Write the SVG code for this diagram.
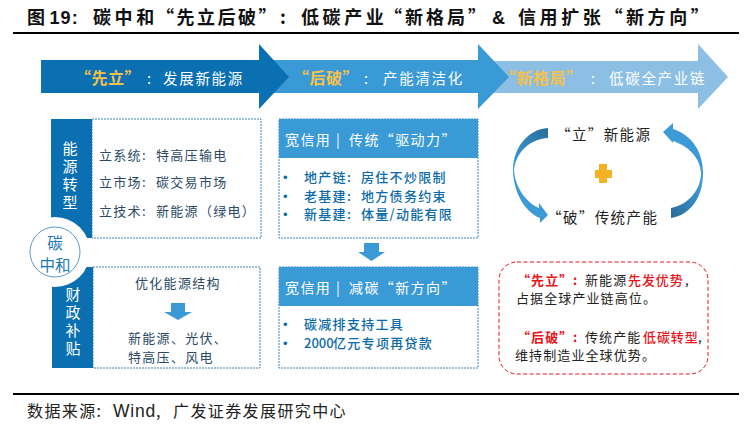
<svg xmlns="http://www.w3.org/2000/svg" width="752" height="424" viewBox="0 0 752 424">
<defs>
<linearGradient id="rL" gradientUnits="userSpaceOnUse" x1="548" y1="130" x2="515" y2="165"><stop offset="0" stop-color="#2a6d9c"/><stop offset="1" stop-color="#3c9bd6"/></linearGradient>
<linearGradient id="rR" gradientUnits="userSpaceOnUse" x1="671" y1="215" x2="702" y2="185"><stop offset="0" stop-color="#2a6d9c"/><stop offset="1" stop-color="#3c9bd6"/></linearGradient>
</defs>
<style>
text{font-family:"Noto Sans CJK SC","Noto Sans",sans-serif}
.title{font-size:18px;font-weight:700;fill:#111;letter-spacing:3.6px}
.titleL{font-family:"Liberation Sans",sans-serif;font-size:18px;font-weight:700;fill:#111;letter-spacing:1px}
.rule{stroke:#000;stroke-width:2;fill:none}
.ban{font-size:14.5px;fill:#fff;letter-spacing:1.7px}
.gold{fill:#f2c14e;font-weight:700;font-size:16px;letter-spacing:.5px}
.dash{fill:#fff;stroke:#3f86b8;stroke-width:1;stroke-dasharray:2 1}
.dk{fill:#0a70b2}
.md{fill:#3a9ad6}
.side{font-size:15px;fill:#fff;writing-mode:vertical-rl;letter-spacing:3px}
.body{font-size:13px;fill:#2c4a66;letter-spacing:1.3px}
.blue{font-size:13px;fill:#0b6aa8;letter-spacing:1.3px;font-weight:500}
.hdr{font-size:14px;fill:#fff;letter-spacing:1.4px}
.blk{font-size:14.5px;fill:#222;letter-spacing:1.4px}
.red{font-size:13px;fill:#222;letter-spacing:1.1px}
.r{fill:#e8141c;font-weight:500;letter-spacing:.9px}
.rb{fill:#e8141c;font-weight:700}
.foot{font-size:16px;fill:#222;letter-spacing:1.4px}
.bul{font-family:"Liberation Sans",sans-serif;font-size:13px;fill:#0b6aa8}
</style>
<rect width="752" height="424" fill="#fff"/>
<g id="title">
<text class="title" x="27" y="24">图<tspan class="titleL" dx="1">19:</tspan><tspan x="93">碳中和</tspan><tspan x="156" letter-spacing="2.5">“先立后破”</tspan><tspan x="280">:</tspan><tspan x="301">低碳产业</tspan><tspan x="384" letter-spacing="3">“新格局”</tspan><tspan x="492" font-family="Liberation Sans">&amp;</tspan><tspan x="518">信用扩张“新方向”</tspan></text>
<path class="rule" d="M13,33H739"/>
</g>
<g id="banner-3">
<path fill="#8dbfe4" d="M470,61H698V44L728,77L698,109V93H470Z"/>
<text class="ban" x="500" y="84"><tspan class="gold">“新格局”</tspan><tspan x="591">:</tspan><tspan x="609">低碳全产业链</tspan></text>
</g>
<g id="banner-2">
<path fill="#3a9ad6" d="M250,60H478V44L509,77L478,109V93H250Z"/>
<text class="ban" x="293" y="84"><tspan class="gold">“后破”</tspan><tspan x="364">:</tspan><tspan x="383">产能清洁化</tspan></text>
</g>
<g id="banner-1">
<path fill="#0a70b2" d="M41,60H259V44L289,77L259,109V93H41Z"/>
<text class="ban" x="75" y="84"><tspan class="gold">“先立”</tspan><tspan x="147">:</tspan><tspan x="163">发展新能源</tspan></text>
</g>
<g id="energy-box">
<rect class="dash" x="92" y="119" width="169" height="119"/>
<rect class="dk" x="51" y="119" width="41" height="119"/>
<text class="side" x="70" y="141">能源转型</text>
<text class="body" x="99" y="160">立系统:<tspan x="156">特高压输电</tspan></text>
<text class="body" x="99" y="187">立市场:<tspan x="156">碳交易市场</tspan></text>
<text class="body" x="99" y="216">立技术:<tspan x="156">新能源&#xFF08;绿电&#xFF09;</tspan></text>
</g>
<g id="fiscal-box">
<rect class="dash" x="93" y="267" width="167" height="101"/>
<rect class="dk" x="52" y="267" width="41" height="101"/>
<text class="side" x="73" y="287">财政补贴</text>
<text class="body" x="135" y="288">优化能源结构</text>
<path class="md" d="M171,303H185V312H192L178,320L164,312H171Z"/>
<text class="body" x="128" y="343">新能源、光伏、</text>
<text class="body" x="128" y="362">特高压、风电</text>
</g>
<g id="carbon-neutral">
<circle cx="55" cy="252" r="35" fill="#fff"/>
<circle cx="55" cy="252" r="25" fill="#fff" stroke="#5b9bc8" stroke-width="1"/>
<text font-size="15.5" fill="#1c78b8" text-anchor="middle"><tspan x="55" y="249">碳</tspan><tspan x="55" y="271">中和</tspan></text>
</g>
<g id="credit-old">
<rect class="dash" x="279" y="119" width="199" height="119"/>
<rect class="md" x="279" y="119" width="199" height="39"/>
<text class="hdr" x="285" y="145">宽信用<tspan x="336">|</tspan><tspan x="349">传统“驱动力”</tspan></text>
<text class="bul" x="283" y="182">•</text><text class="bul" x="283" y="201">•</text><text class="bul" x="283" y="219">•</text>
<text class="blue" x="304" y="182">地产链:<tspan x="361">房住不炒限制</tspan></text>
<text class="blue" x="304" y="201">老基建:<tspan x="361">地方债务约束</tspan></text>
<text class="blue" x="304" y="219">新基建:<tspan x="361">体量/动能有限</tspan></text>
</g>
<g id="credit-new">
<rect class="dash" x="279" y="267" width="199" height="101"/>
<rect class="md" x="279" y="267" width="199" height="39"/>
<text class="hdr" x="285" y="293">宽信用<tspan x="336">|</tspan><tspan x="349">减碳“新方向”</tspan></text>
<text class="bul" x="283" y="329">•</text><text class="bul" x="283" y="348">•</text>
<text class="blue" x="304" y="329">碳减排支持工具</text>
<text class="blue" x="304" y="348"><tspan letter-spacing="0">2000</tspan><tspan x="333">亿元专项再贷款</tspan></text>
</g>
<g id="connectors">
<path class="md" d="M364,243H379V252H385L371.500,261L358,252H364Z"/>
<path fill="url(#rL)" d="M548,128C528,129 513,148 513,170C513,190 524,212 540,218L540,223L548,215L539,203L539,208C527,203 515,188 514,170C516,152 530,139 548,138Z"/>
<path fill="url(#rR)" d="M671,208C688,205 701,190 701,173C700,157 688,146 673,141L673,143L663,132L673,123L673,129C692,135 703,152 703,173C703,198 690,215 671,218Z"/>
</g>
<g id="cycle-labels">
<text class="blk" x="556" y="140">“立”新能源</text>
<text class="blk" x="547" y="223" letter-spacing="1.5">“破”传统产能</text>
<path fill="#f5b324" d="M599,164H607V170H612V178H607V183H599V178H595V170H599Z"/>
</g>
<g id="note">
<rect x="499" y="262" width="209" height="112" rx="18" fill="#fff" stroke="#e8141c" stroke-width="1" stroke-dasharray="4 2.500"/>
<text class="red" x="517" y="285"><tspan class="rb">“先立”</tspan><tspan class="rb" x="573">:</tspan><tspan x="585">新能源</tspan><tspan class="r" x="628">先发优势</tspan><tspan x="685">,</tspan></text>
<text class="red" x="516" y="303">占据全球产业链高位。</text>
<text class="red" x="517" y="342"><tspan class="rb">“后破”</tspan><tspan class="rb" x="573">:</tspan><tspan x="585">传统产能</tspan><tspan class="r" x="643">低碳转型</tspan><tspan x="698">,</tspan></text>
<text class="red" x="515" y="360">维持制造业全球优势。</text>
</g>
<g id="footer">
<path class="rule" d="M13,394H739"/>
<text class="foot" x="27" y="417">数据来源:<tspan x="113" font-family="Liberation Sans" font-size="17.5" letter-spacing="0.800">Wind</tspan><tspan x="156">,</tspan><tspan x="173">广发证券发展研究中心</tspan></text>
</g>
</svg>
